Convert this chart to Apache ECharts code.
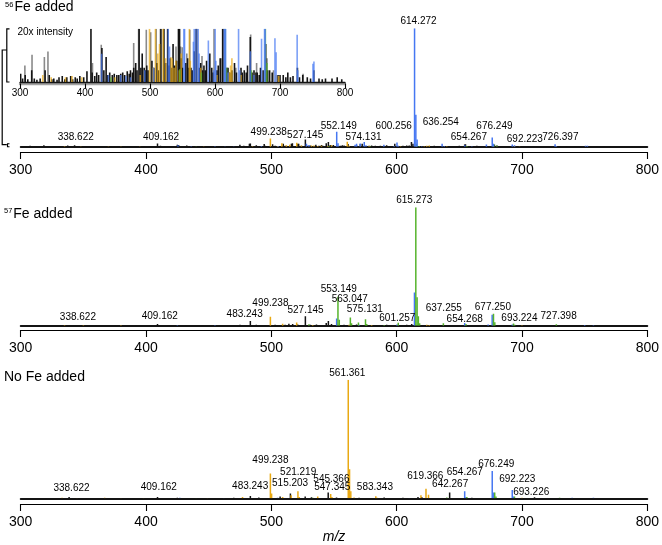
<!DOCTYPE html>
<html><head><meta charset="utf-8">
<script src="https://cdn.jsdelivr.net/npm/echarts@6/dist/echarts.min.js"></script>
<style>html,body{margin:0;padding:0;background:#fff}#c{width:662px;height:545px}</style>
</head><body><div id="c"></div><script>
// ---------- DATA (m/z, relative intensity %) ----------
const mzTicks = [300, 400, 500, 600, 700, 800];

// 56Fe added spectrum
const fe56Black = [[301,0.35],[304,0.15],[308,0.3],[312,0.12],[318,0.5],[322,0.15],[326,0.1],[331,0.15],[338.622,0.5],[345,0.3],[349,0.12],[352,0.15],[357,0.1],[360,0.2],[365,0.25],[369,0.12],[372,0.2],[378,0.25],[381,0.12],[385,0.2],[388,0.15],[392,0.25],[398,0.2],[403,0.45],[409.162,2.6],[411,0.4],[415,0.25],[418,0.4],[421,0.3],[426,1.43],[429,0.5],[432.5,1.05],[435,0.3],[438,0.4],[442,0.3],[445,0.35],[449,0.3],[452,0.3],[455,0.35],[458,0.4],[461,0.3],[465,0.45],[468,0.35],[470,0.5],[473,0.4],[475,0.6],[478,0.8],[480,0.5],[483.243,2.6],[486,0.6],[488,1.2],[491,0.6],[493,0.5],[495,0.7],[497,0.5],[503,0.9],[506,0.6],[511,0.8],[513,0.5],[516.8,3.0],[521,2.5],[524,0.8],[527.145,6],[529,0.7],[531,1.0],[533,0.6],[535.5,1.6],[538,0.7],[541,0.9],[543.8,3.0],[545.5,4],[548,1.0],[550,0.6],[555,0.8],[558,1.0],[560,0.6],[563,0.6],[565,0.5],[568,1.3],[571,2.3],[576,0.6],[578,0.8],[581,0.5],[583,0.7],[585,0.5],[587,0.9],[592,1.2],[595,0.6],[597,0.4],[603,0.5],[605,0.7],[608,1.0],[611.8,4],[618,0.6],[620,0.6],[623,0.4],[626,0.5],[630,0.8],[633,0.4],[640,0.6],[642,0.4],[645,0.5],[648,0.4],[650,0.7],[654.267,1.9],[657,0.4],[660,0.5],[663,0.4],[665,0.4],[668,0.3],[670,0.6],[674,0.5],[678,1.6],[681,0.5],[684,0.5],[688,0.4],[697,0.3],[700,0.3],[705,0.3],[709,0.2],[712,0.4],[716,0.2],[720,0.25],[726.8,0.6],[730,0.2],[735,0.3],[742,0.2],[747,0.15],[752,0.5],[760,0.15],[765,0.12],[770,0.15],[780,0.15],[788,0.2],[795,0.12]];
const fe56Gray = [[307.5,0.7],[318.5,1.15],[337.5,1.05],[343,1.29],[411.5,0.8],[425,1.57],[474.9,1.65],[482.5,2.5],[494.3,2.2],[501,2.1],[509.5,2.5],[516,2.5],[521.8,2.5],[540,1.5],[547,1.5],[549.5,1.47],[556.6,1.2],[561.2,2.2],[572.5,2.5],[580,1.1],[598.5,2.5],[610,1.0],[613,2.4],[632,0.6],[654.9,2.0],[664,0.8],[680,1.0],[690,0.5],[735.5,0.35]];
const fe56Orange = [[335,0.3],[348,0.2],[370,0.2],[380,0.25],[395,0.2],[446,0.2],[485,0.3],[499.238,7],[505,0.6],[508.4,2.9],[512,1.2],[514.7,1.6],[520.3,3.4],[524,1.0],[532,1.05],[534,1.0],[537,0.6],[540,0.9],[545,0.5],[548,1.2],[560.6,4.2],[562,0.9],[578,0.6],[603,0.3],[622,0.4],[624,0.7],[626,1.0],[640,0.3],[694,0.3],[698,0.25]];
const fe56Green = [[440,0.2],[546,0.55],[579,0.4],[615.8,2.5],[618,0.6],[656,0.5],[677.5,2.3],[680,0.8]];
const fe56Blue = [[425.5,1.19],[436,0.3],[455,0.3],[463,0.25],[470,0.2],[492,0.5],[505.5,0.6],[528,2.4],[530,1.5],[552.149,12.6],[553.2,3],[566.8,1.7],[568,2.5],[570.9,2.6],[574.131,4],[575.5,1.2],[589.8,1.75],[598,0.5],[600.256,3.6],[601.3,0.9],[614.272,100],[615.3,27],[616.3,6],[620,0.4],[636.254,2.4],[638,0.5],[654.4,1.3],[660,0.3],[671.6,1.82],[676.249,7.8],[677.2,2.4],[692.223,1.85],[694,1.26],[726.397,1.99],[727.4,0.5],[750.7,0.77],[752.2,0.87]];
const fe56Labels = ['338.622','409.162','499.238','527.145','552.149','574.131','600.256','614.272','636.254','654.267','676.249','692.223','726.397'];

// 57Fe added spectrum
const fe57Black = [[305,0.3],[318,0.4],[338.622,0.6],[343,0.4],[360,0.2],[375,0.2],[392,0.3],[403,0.4],[409.162,1.5],[418,0.4],[426,0.6],[432,0.4],[445,0.3],[458,0.4],[470,0.6],[475,0.7],[478,0.6],[483.243,4],[488,0.8],[495,0.5],[503,0.8],[511,0.7],[514,1.6],[517,1.4],[521,1.0],[527.145,8],[531,0.8],[536,1.0],[543.8,2.2],[545.5,4],[548,1.5],[558,0.8],[568,1.0],[583,0.6],[592,0.8],[608,0.8],[612,1.5],[630,0.5],[645,0.4],[660,0.4],[670,0.5],[688,0.4],[710,0.5],[726,0.3],[752,0.3]];
const fe57Orange = [[335,0.4],[350,0.3],[380,0.3],[499.238,7.6],[509,1.6],[520.2,2.6],[533,0.6],[562,0.8],[580,0.5],[624,0.8],[626,0.6],[700,0.4]];
const fe57Blue = [[425,0.4],[455,0.3],[552.1,6],[570,0.8],[600.2,1.0],[614.2,28],[654.268,2.2],[673,1.0],[676.2,9.3],[692.2,1.0],[750,0.5],[757,0.4]];
const fe57Green = [[530,1.3],[553.149,24.5],[554.2,5],[563.047,7],[564,2],[569.5,2.8],[575.131,5.4],[576.1,1.5],[590,0.5],[601.257,2.5],[615.273,100],[616.3,24],[617.3,8],[618.3,2],[637.255,2],[655.3,1.5],[677.250,10],[678.3,3],[693.224,1.8],[694.2,0.8],[727.398,1.2]];
const fe57Labels = ['338.622','409.162','483.243','499.238','527.145','553.149','563.047','575.131','601.257','615.273','637.255','654.268','677.250','693.224','727.398'];

// No Fe added spectrum
const noFeBlack = [[305,0.3],[320,0.3],[338.622,1.2],[352,0.3],[370,0.3],[390,0.3],[409.162,1.0],[425,0.4],[440,0.3],[455,0.3],[470,0.4],[483.243,2],[490,0.6],[507,1.5],[515.203,4],[527,1.5],[532,0.8],[545.366,4.8],[552,0.6],[570,0.5],[590,0.6],[605,0.5],[617,1.0],[620,1.2],[642.267,5],[660,0.5],[710,0.8],[730,0.3]];
const noFeOrange = [[333,0.5],[345,0.3],[367,0.4],[380,0.3],[398,0.3],[449,0.3],[477,1.0],[499.238,21],[500.2,4],[509,1.0],[515.8,2.5],[521.219,6],[522.2,1.2],[537,1.5],[547.345,3.6],[548.3,1.2],[561.361,100],[562.4,24.5],[563.4,6],[566,0.6],[583.343,1.8],[584.3,0.5],[619.366,2.5],[623.4,8],[625.4,3],[700,0.4]];
const noFeBlue = [[427,0.4],[462,0.3],[505,0.4],[610,0.3],[654.267,6],[655.3,1.2],[676.249,23],[677.3,5],[692.223,7],[693.226,1.5],[740,0.4],[757,0.4]];
const noFeGreen = [[440,0.2],[533,0.5],[640,0.6],[656,1.2],[678.2,5],[679.2,1.5],[694,1.5],[730,0.4]];
const noFeLabels = ['338.622','409.162','483.243','499.238','515.203','521.219','545.366','547.345','561.361','583.343','619.366','642.267','654.267','676.249','692.223','693.226'];

// ---------- LAYOUT / STYLE ----------
const FONT = "'Liberation Sans', Arial, Helvetica, sans-serif";
const COL = {black:'#141414', gray:'#8a8a8a', orange:'#e9a913', green:'#56b42c', blue:'#4677f2'};
const INSET_MAX = 100 / 20 * (53.3 / 118.5); // 20x intensity
const labelOffsets = {
  fe56: {'338.622':[6.6,-8.6],'409.162':[3.5,-6.3],'499.238':[-1.7,-6.4],'527.145':[-0.2,-4.6],'552.149':[2,-5.1],'574.131':[-0.8,-5],'600.256':[-3.3,-15.7],'614.272':[4,-6.5],'636.254':[-1.3,-21.2],'654.267':[4.2,-7.1],'676.249':[2.2,-10.8],'692.223':[12.6,-4.8],'726.397':[5.3,-7.3]},
  fe57: {'338.622':[8.8,-8],'409.162':[2.3,-7.2],'483.243':[-5.7,-6.3],'499.238':[0,-13.4],'527.145':[0.2,-5.5],'553.149':[0.8,-7.4],'563.047':[-0.6,-18.1],'575.131':[-0.7,-10.3],'601.257':[-0.9,-4.7],'615.273':[-1.5,-6.5],'637.255':[0.4,-15],'654.268':[0,-4.1],'677.250':[-0.6,-6.6],'693.224':[5.9,-5.3],'727.398':[2.3,-7.6]},
  noFe: {'338.622':[2.4,-8.2],'409.162':[1.3,-9.4],'483.243':[-0.2,-9.2],'499.238':[0,-12.7],'515.203':[-0.3,-10.3],'521.219':[0.2,-19.2],'545.366':[3.2,-13.3],'547.345':[1.6,-6.3],'561.361':[-0.9,-6.5],'583.343':[-0.9,-9.2],'619.366':[4.4,-18.6],'642.267':[0.5,-8.4],'654.267':[0.1,-18.5],'676.249':[4,-7],'692.223':[5,-10.7],'693.226':[17.7,-4.2]}
};

function stick(color, lw, ymax, opacity) {
  return function (params, api) {
    const x = api.value(0), y = Math.min(api.value(1), ymax);
    const p0 = api.coord([x, 0]), p1 = api.coord([x, y]);
    return {type:'line', shape:{x1:p0[0], y1:p0[1], x2:p1[0], y2:p1[1]},
      style:{stroke:color, lineWidth:lw, opacity:opacity}};
  };
}
function labelSeries(labels, groups, xIdx, yIdx, key) {
  const all = [].concat(...groups.map(g => g.data));
  const data = labels.map(t => {
    const mz = parseFloat(t);
    let h = 0;
    all.forEach(p => { if (Math.abs(p[0] - mz) < 0.05 && p[1] > h) h = p[1]; });
    return {value:[mz, h], name:t, label:{offset:labelOffsets[key][t]}};
  });
  return {type:'scatter', xAxisIndex:xIdx, yAxisIndex:yIdx, symbolSize:0.1, silent:true, z:5,
    itemStyle:{color:'transparent'}, data:data,
    label:{show:true, position:'inside', formatter:p => p.name, fontSize:10, fontFamily:FONT,
      color:'#000', textBorderWidth:0, opacity:1}};
}

const fe56Groups = [{c:'gray',data:fe56Gray},{c:'black',data:fe56Black},{c:'orange',data:fe56Orange},{c:'green',data:fe56Green},{c:'blue',data:fe56Blue}];
const fe56MainGroups = [{c:'black',data:fe56Black.concat(fe56Gray)},{c:'orange',data:fe56Orange},{c:'green',data:fe56Green},{c:'blue',data:fe56Blue}];
const fe57Groups = [{c:'black',data:fe57Black},{c:'orange',data:fe57Orange},{c:'blue',data:fe57Blue},{c:'green',data:fe57Green}];
const noFeGroups = [{c:'black',data:noFeBlack},{c:'blue',data:noFeBlue},{c:'green',data:noFeGreen},{c:'orange',data:noFeOrange}];

const GL = 20.7, GW = 630, H = 118.5;
const grids = [
  {left:20, top:28.7, width:325, height:53.3},
  {left:GL, top:146.7 - H, width:GW, height:H},
  {left:GL, top:325.7 - H, width:GW, height:H},
  {left:GL, top:498.3 - H, width:GW, height:H}
];
function baseAxis(gi, color, w) {
  return {type:'value', gridIndex:gi, min:300, max:800, interval:100, position:'bottom',
    axisLine:{show:true, onZero:false, lineStyle:{color:color, width:w}},
    axisTick:{show:false}, axisLabel:{show:false}, splitLine:{show:false}};
}
function tickAxis(gi, off, fs, tl, margin, lineColor, lw) {
  return {type:'value', gridIndex:gi, min:mzTicks[0], max:mzTicks[mzTicks.length-1], interval:100, position:'bottom', offset:off,
    axisLine:{show:true, onZero:false, lineStyle:{color:lineColor, width:lw}},
    axisTick:{show:true, length:tl, lineStyle:{color:'#000', width:1.1}},
    axisLabel:{show:true, fontSize:fs, fontFamily:FONT, color:'#000', margin:margin},
    splitLine:{show:false}};
}
const xAxes = [
  tickAxis(0, 1.5, 10, 5, 5, '#a3a3a3', 2.4),   // 0 inset
  baseAxis(0, '#141414', 1.4),                   // 1 inset baseline
  baseAxis(1, '#141414', 1.9),                   // 2
  tickAxis(1, 5.3, 14, 7, 11, '#000', 1.2),      // 3
  baseAxis(2, '#141414', 1.9),                   // 4
  tickAxis(2, 4.3, 14, 7, 11, '#000', 1.2),      // 5
  baseAxis(3, '#141414', 1.9),                   // 6
  Object.assign(tickAxis(3, 5.7, 14, 7, 11, '#000', 1.2), {name:'m/z', nameLocation:'middle', nameGap:26,
    nameTextStyle:{fontStyle:'italic', fontSize:14, fontFamily:FONT, color:'#000'}})  // 7
];
const yAxes = [0,1,2,3].map(i => ({type:'value', gridIndex:i, min:0, max:i === 0 ? INSET_MAX : 100, show:false}));

function customOn(groups, gridIdx, xIdx, ymax, lw, inset) {
  return groups.map(g => ({
    type:'custom', xAxisIndex:xIdx, yAxisIndex:gridIdx, silent:true,
    data:g.data, encode:{x:0, y:1}, clip:true,
    renderItem: stick(COL[g.c], lw, ymax, inset && g.c !== 'black' && g.c !== 'gray' ? 0.7 : 1)
  }));
}

const series = [].concat(
  customOn(fe56Groups, 0, 1, INSET_MAX, 1.6, true),
  customOn(fe56MainGroups, 1, 2, 100, 1.5, false),
  [labelSeries(fe56Labels, fe56MainGroups, 2, 1, 'fe56')],
  customOn(fe57Groups, 2, 4, 100, 1.5, false),
  [labelSeries(fe57Labels, fe57Groups, 4, 2, 'fe57')],
  customOn(noFeGroups, 3, 6, 100, 1.5, false),
  [labelSeries(noFeLabels, noFeGroups, 6, 3, 'noFe')]
);

function txt(x, y, t, size) {
  return {type:'text', x:x, y:y, silent:true,
    style:{text:t, font:size + 'px ' + FONT, fill:'#000', verticalAlign:'middle', align:'left'}};
}
function pl(points, w) {
  return {type:'polyline', silent:true, shape:{points:points}, style:{stroke:'#000', lineWidth:w || 1.2, fill:null}};
}
const graphics = [
  txt(5, 5.3, '56', 7.5), txt(14.5, 7.5, 'Fe added', 14),
  txt(4, 210.5, '57', 7.5), txt(13.3, 214, 'Fe added', 14),
  txt(4, 377, 'No Fe added', 14),
  txt(17.5, 32.5, '20x intensity', 10),
  pl([[9.5,28.8],[6.8,28.8],[6.8,82],[9.5,82]]),
  pl([[6.8,50],[2.2,50],[2.2,144.6],[6.8,144.6]]),
  pl([[9.5,143.8],[7.5,143.8],[7.5,146.8],[9.5,146.8]], 1.1)
];

const chart = echarts.init(document.getElementById('c'), null, {renderer:'canvas'});
chart.setOption({
  animation:false, backgroundColor:'#fff',
  textStyle:{fontFamily:FONT},
  grid:grids, xAxis:xAxes, yAxis:yAxes, series:series, graphic:graphics
});
</script></body></html>
